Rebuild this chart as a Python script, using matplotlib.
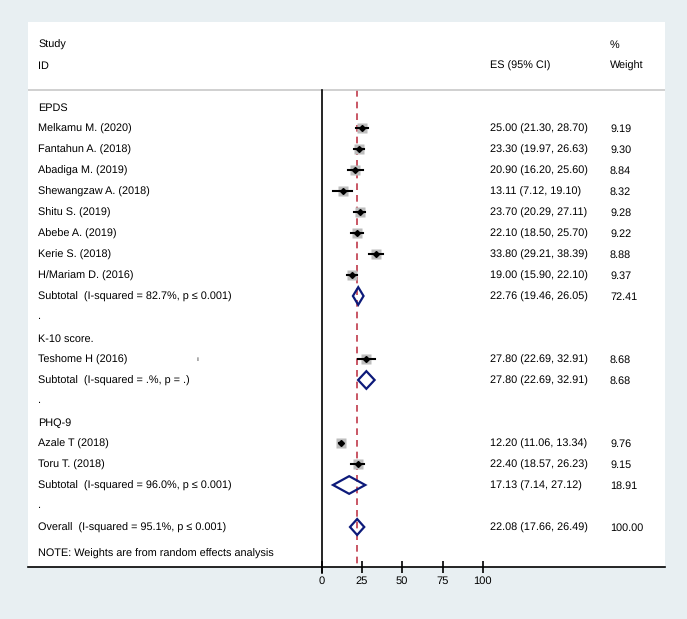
import matplotlib
matplotlib.use("Agg")
import matplotlib.pyplot as plt
import matplotlib.transforms as mtransforms
import numpy as np

plt.rcParams['font.family'] = ['Liberation Sans', 'DejaVu Sans']
plt.rcParams['text.hinting'] = 'no_hinting'

# ---- data ----
groups = ['EPDS', 'K-10 score.', 'PHQ-9']

epds_study = ['Melkamu M. (2020)', 'Fantahun A. (2018)', 'Abadiga M. (2019)',
              'Shewangzaw A. (2018)', 'Shitu S. (2019)', 'Abebe A. (2019)',
              'Kerie S. (2018)', 'H/Mariam D. (2016)']
epds_es = [25.00, 23.30, 20.90, 13.11, 23.70, 22.10, 33.80, 19.00]
epds_lo = [21.30, 19.97, 16.20, 7.12, 20.29, 18.50, 29.21, 15.90]
epds_hi = [28.70, 26.63, 25.60, 19.10, 27.11, 25.70, 38.39, 22.10]
epds_w = [9.19, 9.30, 8.84, 8.32, 9.28, 9.22, 8.88, 9.37]

k10_study = ['Teshome H (2016)']
k10_es = [27.80]
k10_lo = [22.69]
k10_hi = [32.91]
k10_w = [8.68]

phq_study = ['Azale T (2018)', 'Toru T. (2018)']
phq_es = [12.20, 22.40]
phq_lo = [11.06, 18.57]
phq_hi = [13.34, 26.23]
phq_w = [9.76, 9.15]

sub_label = ['Subtotal  (I-squared = 82.7%, p \u2264 0.001)',
             'Subtotal  (I-squared = .%, p = .)',
             'Subtotal  (I-squared = 96.0%, p \u2264 0.001)']
sub_es = [22.76, 27.80, 17.13]
sub_lo = [19.46, 22.69, 7.14]
sub_hi = [26.05, 32.91, 27.12]
sub_w = [72.41, 8.68, 18.91]

overall_label = 'Overall  (I-squared = 95.1%, p \u2264 0.001)'
overall_es, overall_lo, overall_hi, overall_w = 22.08, 17.66, 26.49, 100.00

xticks = [0, 25, 50, 75, 100]

group_data = [
    (epds_study, epds_es, epds_lo, epds_hi, epds_w),
    (k10_study, k10_es, k10_lo, k10_hi, k10_w),
    (phq_study, phq_es, phq_lo, phq_hi, phq_w),
]

# ---- figure layout (white panel inside light bluish background) ----
bg = '#e8eff2'
fig = plt.figure(figsize=(6.87, 6.19), dpi=100, facecolor=bg)
W, H = 687, 619
px0, px1, py0, py1 = 28, 665, 22, 567
ax = fig.add_axes([px0 / W, (H - py1) / H, (px1 - px0) / W, (py1 - py0) / H])
ax.set_facecolor('white')

# x scale: 0 at pixel 321.5, 1.614 px per unit
x_zero, ppu = 321.5, 1.614
ax.set_xlim((px0 - x_zero) / ppu, (px1 - x_zero) / ppu)
# y in row units: row 0 (EPDS) at pixel 107, 21 px per row
ax.set_ylim((py1 - 107) / 21, (py0 - 107) / 21)

fs = 7.8
navy = '#0d1a7a'
tr = mtransforms.blended_transform_factory(ax.transAxes, ax.transData)
xl, xes, xw = 0.0157, 0.7253, 0.9137
base = 0.19   # baseline offset below row centre, in row units

def ci_text(e, l, h):
    return '%.2f (%.2f, %.2f)' % (e, l, h)

def txt(x, y, s, **kw):
    ax.text(x, y + base, s, transform=tr, fontsize=fs, va='baseline', **kw)

row = 0
for gi, g in enumerate(groups):
    txt(xl, row, g)
    row += 1
    st, es, lo, hi, w = group_data[gi]
    for s, e, l, h, ww in zip(st, es, lo, hi, w):
        txt(xl, row, s)
        ax.plot(e, row, 's', ms=7.2 * np.sqrt(ww / 9.76), color='#bdbdbd',
                mec='none', zorder=2)
        ax.plot([l, h], [row, row], color='black', lw=1.5, zorder=3)
        ax.plot(e, row, 'D', ms=3.0, color='black', zorder=4)
        txt(xes, row, ci_text(e, l, h))
        txt(xw, row, '%.2f' % ww)
        if s == 'Teshome H (2016)':
            ax.text(0.264, row, '\u0131', transform=tr, fontsize=5, va='center')
        row += 1
    txt(xl, row, sub_label[gi])
    e, l, h = sub_es[gi], sub_lo[gi], sub_hi[gi]
    ax.fill([l, e, h, e, l], [row, row - 0.42, row, row + 0.42, row],
            facecolor='none', edgecolor=navy, lw=1.6, zorder=5)
    txt(xes, row, ci_text(e, l, h))
    txt(xw, row, '%.2f' % sub_w[gi])
    row += 1
    txt(xl, row - 0.1, '.')
    row += 1

# overall row
txt(xl, row, overall_label)
ax.fill([overall_lo, overall_es, overall_hi, overall_es, overall_lo],
        [row, row - 0.38, row, row + 0.38, row],
        facecolor='none', edgecolor=navy, lw=1.6, zorder=5)
txt(xes, row, ci_text(overall_es, overall_lo, overall_hi))
txt(xw, row, '%.2f' % overall_w)
txt(xl, row + 1.24, 'NOTE: Weights are from random effects analysis')

# header
txt(xl, -3.0, 'Study')
txt(xl, -2.0, 'ID')
txt(xes, -2.0, 'ES (95% CI)')
txt(xw, -3.0, '%')
txt(xw, -2.0, 'Weight')
sep = (90 - 107) / 21
ax.axhline(sep, color='#c8c8c8', lw=1.2)

# null line and overall effect line
ax.plot([0, 0], [sep, ax.get_ylim()[0] + 0.3], color='black', lw=1.2,
        clip_on=False, zorder=6)
ax.plot([overall_es, overall_es], [sep, ax.get_ylim()[0]], color='#c0394a',
        lw=1.2, ls=(0, (4, 3)), zorder=1)

# axis
for sp in ['top', 'left', 'right']:
    ax.spines[sp].set_visible(False)
ax.spines['bottom'].set_linewidth(1.2)
ax.set_yticks([])
ax.set_xticks(xticks)
ax.set_xticklabels([str(t) for t in xticks])
ax.tick_params(axis='x', direction='inout', length=9, width=1.2,
               labelsize=8, pad=2)

fig.savefig('out.png', dpi=100, facecolor=bg)
